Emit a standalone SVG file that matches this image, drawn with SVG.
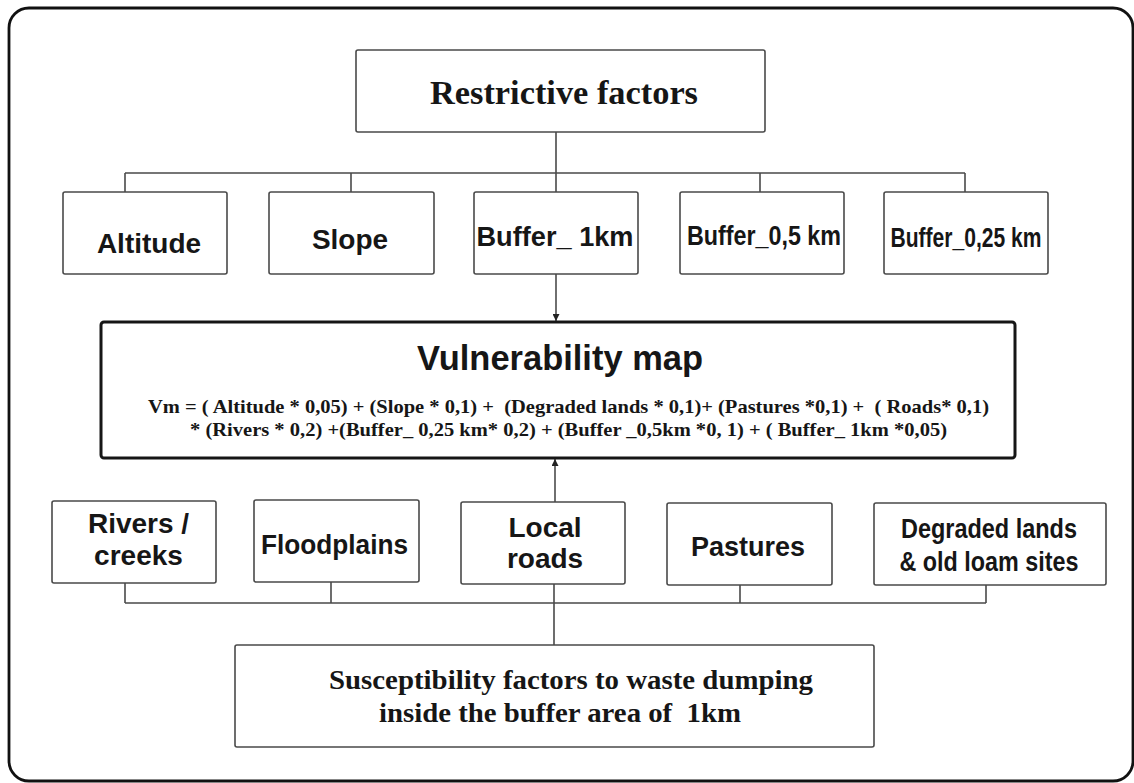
<svg xmlns="http://www.w3.org/2000/svg" width="1134" height="783" viewBox="0 0 1134 783">
<style>
.box{fill:#fff;stroke:#4a4a4a;stroke-width:1.6}
.main{fill:#fff;stroke:#161616;stroke-width:3}
.ln{fill:none;stroke:#4a4a4a;stroke-width:1.6}
.ar{fill:none;stroke:#333;stroke-width:1.4}
.sans{font-family:"Liberation Sans",Arial,sans-serif;font-weight:bold;fill:#161616;text-anchor:middle}
.serif{font-family:"Liberation Serif","Times New Roman",serif;font-weight:bold;fill:#161616;text-anchor:middle;white-space:pre}
</style>
<defs>
<marker id="ah" viewBox="0 0 10 10" refX="10" refY="5" markerWidth="7" markerHeight="7" markerUnits="userSpaceOnUse" orient="auto">
<path d="M0,0 L10,5 L0,10 z" fill="#222"/>
</marker>
</defs>
<rect width="1134" height="783" fill="#fff"/>
<rect x="9" y="8" width="1124" height="773" rx="20" fill="none" stroke="#111" stroke-width="2.8"/>

<g id="connectors">
<path class="ln" d="M556,132 V192 M125,173 H965 M125,173 V192 M351,173 V192 M760,173 V192 M965,173 V192"/>
<path class="ar" d="M556,274 V321" marker-end="url(#ah)"/>
<path class="ar" d="M555,502 V459" marker-end="url(#ah)"/>
<path class="ln" d="M125,603 H986 M125,583 V603 M331,582 V603 M740,585 V603 M986,585 V603 M554,584 V645"/>
</g>

<g id="restrictive">
<rect class="box" x="356" y="50" width="409" height="82" rx="2"/>
<text class="serif" x="564" y="104" font-size="34" textLength="268" lengthAdjust="spacingAndGlyphs">Restrictive factors</text>
</g>

<g id="altitude">
<rect class="box" x="63" y="192" width="164" height="82" rx="2"/>
<text class="sans" x="149" y="253" font-size="28">Altitude</text>
</g>
<g id="slope">
<rect class="box" x="269" y="192" width="165" height="82" rx="2"/>
<text class="sans" x="350" y="249" font-size="28">Slope</text>
</g>
<g id="buffer1km">
<rect class="box" x="474" y="192" width="164" height="82" rx="2"/>
<text class="sans" x="555" y="246" font-size="28" textLength="157" lengthAdjust="spacingAndGlyphs">Buffer_ 1km</text>
</g>
<g id="buffer05">
<rect class="box" x="680" y="192" width="164" height="82" rx="2"/>
<text class="sans" x="764" y="245" font-size="28" textLength="154" lengthAdjust="spacingAndGlyphs">Buffer_0,5 km</text>
</g>
<g id="buffer025">
<rect class="box" x="884" y="192" width="164" height="82" rx="2"/>
<text class="sans" x="966" y="247" font-size="27" textLength="151" lengthAdjust="spacingAndGlyphs">Buffer_0,25 km</text>
</g>

<g id="vulnerability">
<rect class="main" x="101" y="322" width="914" height="136" rx="3"/>
<text class="sans" x="560" y="370" font-size="35" textLength="286" lengthAdjust="spacingAndGlyphs">Vulnerability map</text>
<text class="serif" x="568.5" y="413" font-size="19" textLength="841" lengthAdjust="spacingAndGlyphs">Vm = ( Altitude * 0,05) + (Slope * 0,1) +  (Degraded lands * 0,1)+ (Pastures *0,1) +  ( Roads* 0,1)</text>
<text class="serif" x="568.5" y="436" font-size="19" textLength="757" lengthAdjust="spacingAndGlyphs">* (Rivers * 0,2) +(Buffer_ 0,25 km* 0,2) + (Buffer _0,5km *0, 1) + ( Buffer_ 1km *0,05)</text>
</g>

<g id="rivers">
<rect class="box" x="52" y="501" width="164" height="82" rx="2"/>
<text class="sans" x="138.5" y="533" font-size="28">Rivers /</text>
<text class="sans" x="138.5" y="565" font-size="28">creeks</text>
</g>
<g id="floodplains">
<rect class="box" x="254" y="500" width="165" height="82" rx="2"/>
<text class="sans" x="334.5" y="554" font-size="27" textLength="147" lengthAdjust="spacingAndGlyphs">Floodplains</text>
</g>
<g id="localroads">
<rect class="box" x="461" y="502" width="164" height="82" rx="2"/>
<text class="sans" x="545" y="537" font-size="28">Local</text>
<text class="sans" x="545" y="568" font-size="28">roads</text>
</g>
<g id="pastures">
<rect class="box" x="667" y="503" width="165" height="82" rx="2"/>
<text class="sans" x="748" y="556" font-size="27" textLength="114" lengthAdjust="spacingAndGlyphs">Pastures</text>
</g>
<g id="degraded">
<rect class="box" x="874" y="503" width="232" height="82" rx="2"/>
<text class="sans" x="989" y="538" font-size="27" textLength="176" lengthAdjust="spacingAndGlyphs">Degraded lands</text>
<text class="sans" x="989" y="571" font-size="27" textLength="179" lengthAdjust="spacingAndGlyphs">&amp; old loam sites</text>
</g>

<g id="susceptibility">
<rect class="box" x="235" y="645" width="639" height="102" rx="2"/>
<text class="serif" x="571" y="689" font-size="28" textLength="484" lengthAdjust="spacingAndGlyphs">Susceptibility factors to waste dumping</text>
<text class="serif" x="560" y="722" font-size="28" textLength="362" lengthAdjust="spacingAndGlyphs">inside the buffer area of  1km</text>
</g>
</svg>
